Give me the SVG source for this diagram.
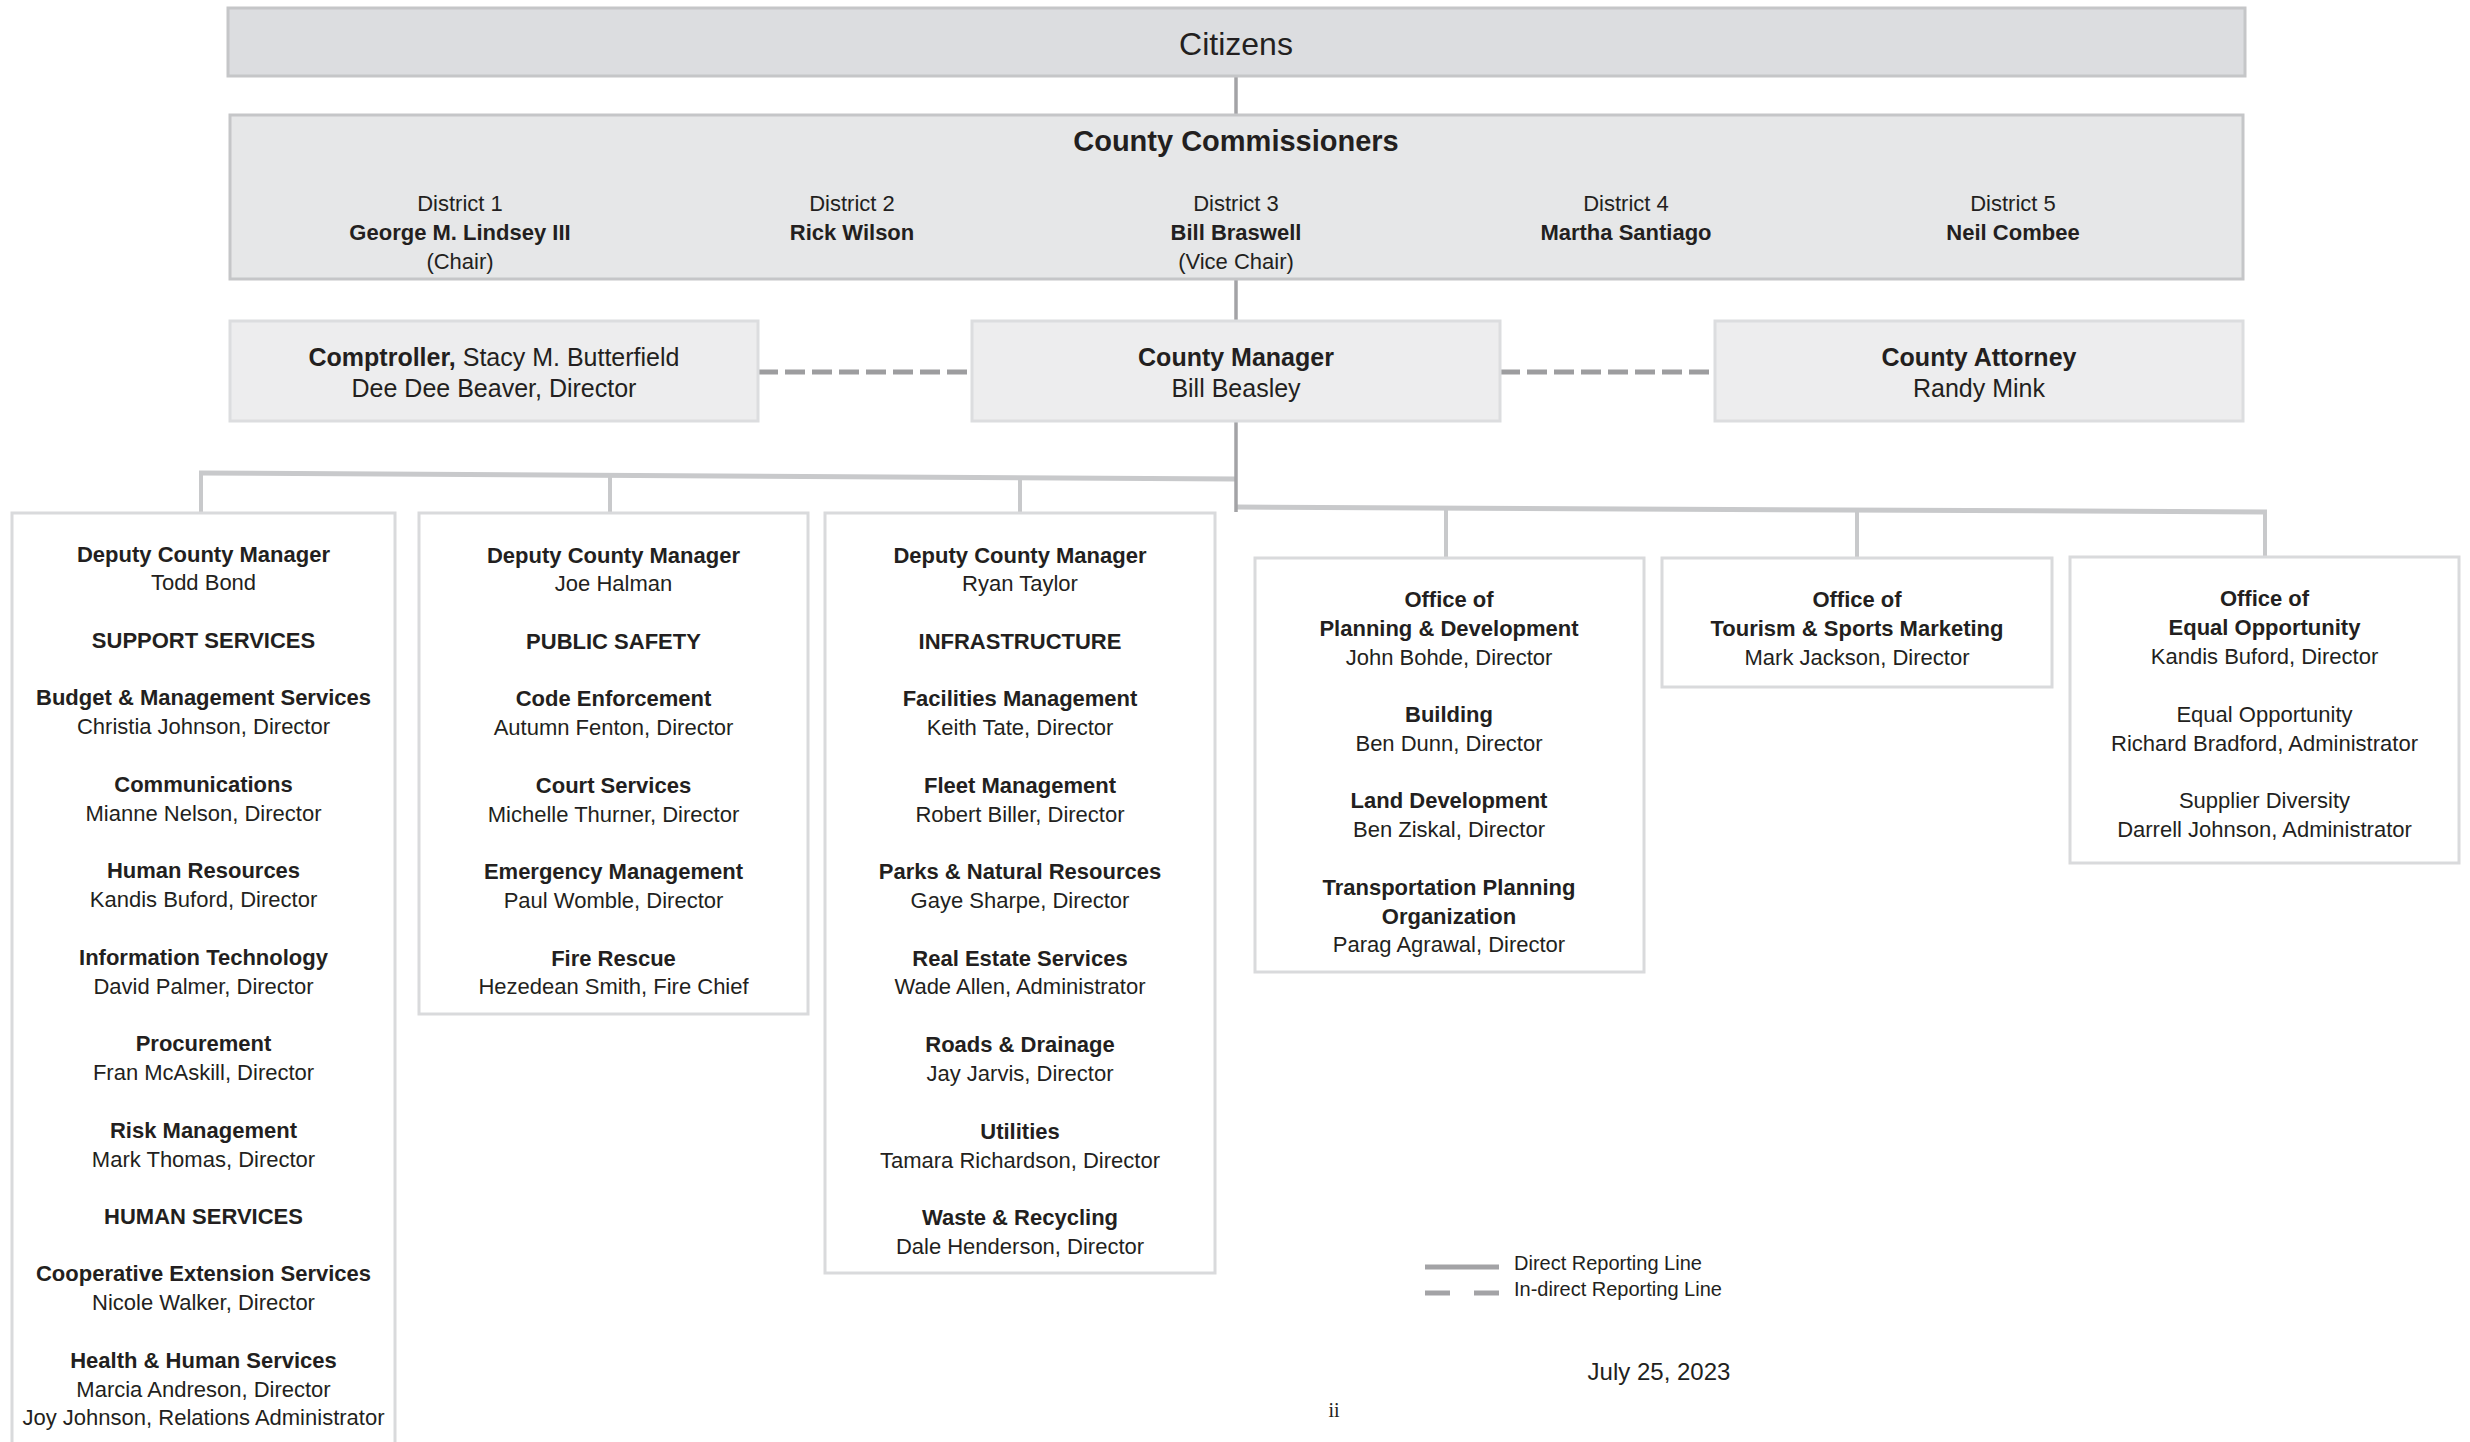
<svg xmlns="http://www.w3.org/2000/svg" width="2470" height="1442" viewBox="0 0 2470 1442">
<style>
text{font-family:"Liberation Sans",Arial,sans-serif;fill:#231f20;text-anchor:middle;font-size:22px}
.b{font-weight:bold}
.lg{text-anchor:start;font-size:20px}
.top{fill:#dcdde0;stroke:#c5c6c8;stroke-width:3}
.comm{fill:#e6e7e8;stroke:#c5c6c8;stroke-width:3}
.mid{fill:#ededee;stroke:#dcdddf;stroke-width:3}
.dept{fill:#fff;stroke:#d9dadc;stroke-width:3}
.solid{stroke:#a3a3a6;stroke-width:3.5;fill:none}
.bus{stroke:#c8c9cb;stroke-width:5;fill:none}
.drop{stroke:#c8c9cb;stroke-width:4;fill:none}
.dash{stroke:#9d9d9f;stroke-width:5;stroke-dasharray:20 7;fill:none}
.lsolid{stroke:#a3a3a6;stroke-width:5;fill:none}
</style>
<rect width="2470" height="1442" fill="#fff"/>
<g id="connectors">
<line class="solid" x1="1236" y1="76" x2="1236" y2="115"/>
<line class="solid" x1="1236" y1="279" x2="1236" y2="321"/>
<line class="dash" x1="758" y1="372" x2="972" y2="372"/>
<line class="dash" x1="1500" y1="372" x2="1715" y2="372"/>
<path class="bus" d="M199,473 L1236,479"/>
<line class="drop" x1="201" y1="474" x2="201" y2="513"/>
<line class="drop" x1="610" y1="476" x2="610" y2="513"/>
<line class="drop" x1="1020" y1="478" x2="1020" y2="513"/>
<path class="bus" d="M1236,507 L2267,512"/>
<line class="drop" x1="1446" y1="509" x2="1446" y2="558"/>
<line class="drop" x1="1857" y1="511" x2="1857" y2="558"/>
<line class="drop" x1="2265" y1="510" x2="2265" y2="557"/>
<line class="solid" x1="1236" y1="421" x2="1236" y2="512"/>
</g>
<g id="citizens">
<rect class="top" x="228" y="8" width="2017" height="68"/>
<text x="1236" y="55" style="font-size:32px">Citizens</text>
</g>
<g id="commissioners">
<rect class="comm" x="230" y="115" width="2013" height="164"/>
<text x="1236" y="151" class="b" style="font-size:29px">County Commissioners</text>
<text x="460" y="210.5">District 1</text>
<text x="460" y="239.5" class="b">George M. Lindsey III</text>
<text x="460" y="268.5">(Chair)</text>
<text x="852" y="210.5">District 2</text>
<text x="852" y="239.5" class="b">Rick Wilson</text>
<text x="1236" y="210.5">District 3</text>
<text x="1236" y="239.5" class="b">Bill Braswell</text>
<text x="1236" y="268.5">(Vice Chair)</text>
<text x="1626" y="210.5">District 4</text>
<text x="1626" y="239.5" class="b">Martha Santiago</text>
<text x="2013" y="210.5">District 5</text>
<text x="2013" y="239.5" class="b">Neil Combee</text>
</g>
<g id="comptroller">
<rect class="mid" x="230" y="321" width="528" height="100"/>
<text x="494" y="366" style="font-size:25px"><tspan class="b">Comptroller,</tspan> Stacy M. Butterfield</text>
<text x="494" y="397" style="font-size:25px">Dee Dee Beaver, Director</text>
</g>
<g id="county-manager">
<rect class="mid" x="972" y="321" width="528" height="100"/>
<text x="1236" y="366" class="b" style="font-size:25px">County Manager</text>
<text x="1236" y="397" style="font-size:25px">Bill Beasley</text>
</g>
<g id="county-attorney">
<rect class="mid" x="1715" y="321" width="528" height="100"/>
<text x="1979" y="366" class="b" style="font-size:25px">County Attorney</text>
<text x="1979" y="397" style="font-size:25px">Randy Mink</text>
</g>
<g id="dcm-support">
<rect class="dept" x="12" y="513" width="383" height="945"/>
<text x="203.5" y="561.5" class="b">Deputy County Manager</text>
<text x="203.5" y="590">Todd Bond</text>
<text x="203.5" y="648" class="b">SUPPORT SERVICES</text>
<text x="203.5" y="705" class="b">Budget &amp; Management Services</text>
<text x="203.5" y="734">Christia Johnson, Director</text>
<text x="203.5" y="791.5" class="b">Communications</text>
<text x="203.5" y="820.5">Mianne Nelson, Director</text>
<text x="203.5" y="878" class="b">Human Resources</text>
<text x="203.5" y="907">Kandis Buford, Director</text>
<text x="203.5" y="964.5" class="b">Information Technology</text>
<text x="203.5" y="993.5">David Palmer, Director</text>
<text x="203.5" y="1051" class="b">Procurement</text>
<text x="203.5" y="1080">Fran McAskill, Director</text>
<text x="203.5" y="1137.5" class="b">Risk Management</text>
<text x="203.5" y="1166.5">Mark Thomas, Director</text>
<text x="203.5" y="1224" class="b">HUMAN SERVICES</text>
<text x="203.5" y="1281" class="b">Cooperative Extension Services</text>
<text x="203.5" y="1310">Nicole Walker, Director</text>
<text x="203.5" y="1367.5" class="b">Health &amp; Human Services</text>
<text x="203.5" y="1396.5">Marcia Andreson, Director</text>
<text x="203.5" y="1425">Joy Johnson, Relations Administrator</text>
</g>
<g id="dcm-public-safety">
<rect class="dept" x="419" y="513" width="389" height="501"/>
<text x="613.5" y="562.5" class="b">Deputy County Manager</text>
<text x="613.5" y="591">Joe Halman</text>
<text x="613.5" y="649" class="b">PUBLIC SAFETY</text>
<text x="613.5" y="706" class="b">Code Enforcement</text>
<text x="613.5" y="735">Autumn Fenton, Director</text>
<text x="613.5" y="792.5" class="b">Court Services</text>
<text x="613.5" y="821.5">Michelle Thurner, Director</text>
<text x="613.5" y="879" class="b">Emergency Management</text>
<text x="613.5" y="908">Paul Womble, Director</text>
<text x="613.5" y="965.5" class="b">Fire Rescue</text>
<text x="613.5" y="994">Hezedean Smith, Fire Chief</text>
</g>
<g id="dcm-infrastructure">
<rect class="dept" x="825" y="513" width="390" height="760"/>
<text x="1020" y="562.5" class="b">Deputy County Manager</text>
<text x="1020" y="591">Ryan Taylor</text>
<text x="1020" y="649" class="b">INFRASTRUCTURE</text>
<text x="1020" y="706" class="b">Facilities Management</text>
<text x="1020" y="735">Keith Tate, Director</text>
<text x="1020" y="792.5" class="b">Fleet Management</text>
<text x="1020" y="821.5">Robert Biller, Director</text>
<text x="1020" y="879" class="b">Parks &amp; Natural Resources</text>
<text x="1020" y="908">Gaye Sharpe, Director</text>
<text x="1020" y="965.5" class="b">Real Estate Services</text>
<text x="1020" y="994">Wade Allen, Administrator</text>
<text x="1020" y="1052" class="b">Roads &amp; Drainage</text>
<text x="1020" y="1081">Jay Jarvis, Director</text>
<text x="1020" y="1138.5" class="b">Utilities</text>
<text x="1020" y="1167.5">Tamara Richardson, Director</text>
<text x="1020" y="1225" class="b">Waste &amp; Recycling</text>
<text x="1020" y="1253.5">Dale Henderson, Director</text>
</g>
<g id="planning-development">
<rect class="dept" x="1255" y="558" width="389" height="414"/>
<text x="1449" y="607" class="b">Office of</text>
<text x="1449" y="635.5" class="b">Planning &amp; Development</text>
<text x="1449" y="664.5">John Bohde, Director</text>
<text x="1449" y="722" class="b">Building</text>
<text x="1449" y="751">Ben Dunn, Director</text>
<text x="1449" y="808" class="b">Land Development</text>
<text x="1449" y="837">Ben Ziskal, Director</text>
<text x="1449" y="895" class="b">Transportation Planning</text>
<text x="1449" y="923.5" class="b">Organization</text>
<text x="1449" y="952">Parag Agrawal, Director</text>
</g>
<g id="tourism">
<rect class="dept" x="1662" y="558" width="390" height="129"/>
<text x="1857" y="607" class="b">Office of</text>
<text x="1857" y="635.5" class="b">Tourism &amp; Sports Marketing</text>
<text x="1857" y="664.5">Mark Jackson, Director</text>
</g>
<g id="equal-opportunity">
<rect class="dept" x="2070" y="557" width="389" height="306"/>
<text x="2264.5" y="606" class="b">Office of</text>
<text x="2264.5" y="635" class="b">Equal Opportunity</text>
<text x="2264.5" y="664">Kandis Buford, Director</text>
<text x="2264.5" y="722">Equal Opportunity</text>
<text x="2264.5" y="751">Richard Bradford, Administrator</text>
<text x="2264.5" y="808">Supplier Diversity</text>
<text x="2264.5" y="837">Darrell Johnson, Administrator</text>
</g>
<g id="legend">
<line class="lsolid" x1="1425" y1="1267" x2="1499" y2="1267"/>
<line class="lsolid" x1="1425" y1="1293" x2="1450" y2="1293"/>
<line class="lsolid" x1="1474" y1="1293" x2="1499" y2="1293"/>
<text x="1514" y="1270" class="lg">Direct Reporting Line</text>
<text x="1514" y="1296" class="lg">In-direct Reporting Line</text>
</g>
<text x="1659" y="1380" style="font-size:24px">July 25, 2023</text>
<text x="1334" y="1417" style="font-family:'Liberation Serif',serif;font-size:20px">ii</text>
</svg>
